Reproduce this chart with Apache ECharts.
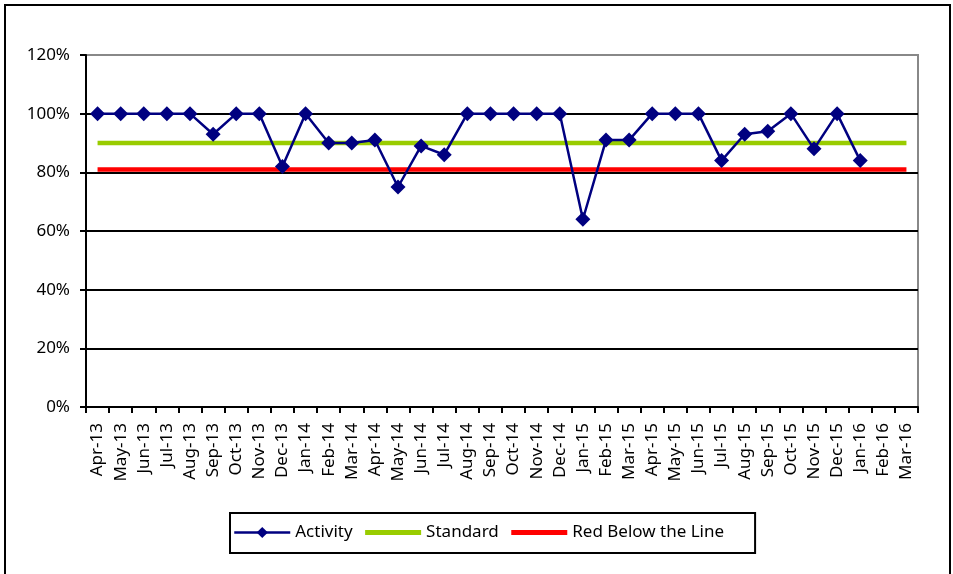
<!DOCTYPE html>
<html>
<head>
<meta charset="utf-8">
<script src="https://cdn.jsdelivr.net/npm/echarts@6/dist/echarts.min.js"></script>
<style>html,body{margin:0;padding:0;background:#fff;}#c{width:953px;height:574px;}</style>
</head>
<body>
<div id="c"></div>
<script>
var months = ['Apr-13','May-13','Jun-13','Jul-13','Aug-13','Sep-13','Oct-13','Nov-13','Dec-13','Jan-14','Feb-14','Mar-14','Apr-14','May-14','Jun-14','Jul-14','Aug-14','Sep-14','Oct-14','Nov-14','Dec-14','Jan-15','Feb-15','Mar-15','Apr-15','May-15','Jun-15','Jul-15','Aug-15','Sep-15','Oct-15','Nov-15','Dec-15','Jan-16','Feb-16','Mar-16'];
var activity = [100,100,100,100,100,93,100,100,82,100,90,90,91,75,89,86,100,100,100,100,100,64,91,91,100,100,100,84,93,94,100,88,100,84,null,null];
var standard = [90,90,90,90,90,90,90,90,90,90,90,90,90,90,90,90,90,90,90,90,90,90,90,90,90,90,90,90,90,90,90,90,90,90,90,90];
var redLine = [81,81,81,81,81,81,81,81,81,81,81,81,81,81,81,81,81,81,81,81,81,81,81,81,81,81,81,81,81,81,81,81,81,81,81,81];
var yTicks = [0,20,40,60,80,100,120];

var FONT = 'Noto Sans';
var chart = echarts.init(document.getElementById('c'), null, {renderer:'canvas'});
chart.setOption({
  animation:false,
  backgroundColor:'#fff',
  textStyle:{fontFamily:FONT},
  graphic:[{type:'rect',shape:{x:5,y:5,width:945,height:585},style:{fill:'none',stroke:'#000',lineWidth:2},z:-1}],
  grid:{left:86,right:35,top:55,bottom:167,show:true,borderColor:'#888',borderWidth:2,backgroundColor:'transparent'},
  legend:{
    left:230, top:513,
    data:[
      {name:'Activity', lineStyle:{width:2.5}},
      {name:'Standard', itemStyle:{color:'rgba(0,0,0,0)',borderWidth:0}, lineStyle:{width:5}},
      {name:'Red Below the Line', itemStyle:{color:'rgba(0,0,0,0)',borderWidth:0}, lineStyle:{width:5}}
    ],
    itemWidth:56, itemHeight:14, itemGap:10,
    padding:[11,31,12,3],
    borderColor:'#000', borderWidth:2,
    textStyle:{fontFamily:FONT,fontSize:17,color:'#000'}
  },
  xAxis:{
    type:'category', data:months, boundaryGap:true,
    axisLine:{lineStyle:{color:'#000',width:2}},
    axisTick:{show:true,length:6,lineStyle:{color:'#000',width:2}},
    axisLabel:{rotate:90,interval:0,margin:16,fontFamily:FONT,fontSize:17,color:'#000'},
    splitLine:{show:false}
  },
  yAxis:{
    type:'value', min:0, max:120, interval:20,
    axisLine:{show:true,lineStyle:{color:'#000',width:2}},
    axisTick:{show:true,length:6,lineStyle:{color:'#000',width:2}},
    axisLabel:{margin:16,fontFamily:FONT,fontSize:17,color:'#000',formatter:function(v){return v+'%';}},
    splitLine:{show:true,lineStyle:{color:['#000','#000','#000','#000','#000','#000','#888'],width:2}}
  },
  series:[
    {name:'Standard',type:'line',data:standard,symbol:'none',lineStyle:{color:'#99CC00',width:4.5},itemStyle:{color:'#99CC00'},z:2},
    {name:'Red Below the Line',type:'line',data:redLine,symbol:'none',lineStyle:{color:'#FF0000',width:4.5},itemStyle:{color:'#FF0000'},z:2},
    {name:'Activity',type:'line',data:activity,symbol:'diamond',symbolSize:[15,15],showSymbol:true,connectNulls:false,
     lineStyle:{color:'#000080',width:2.5},itemStyle:{color:'#000080'},z:3}
  ]
});
</script>
</body>
</html>
